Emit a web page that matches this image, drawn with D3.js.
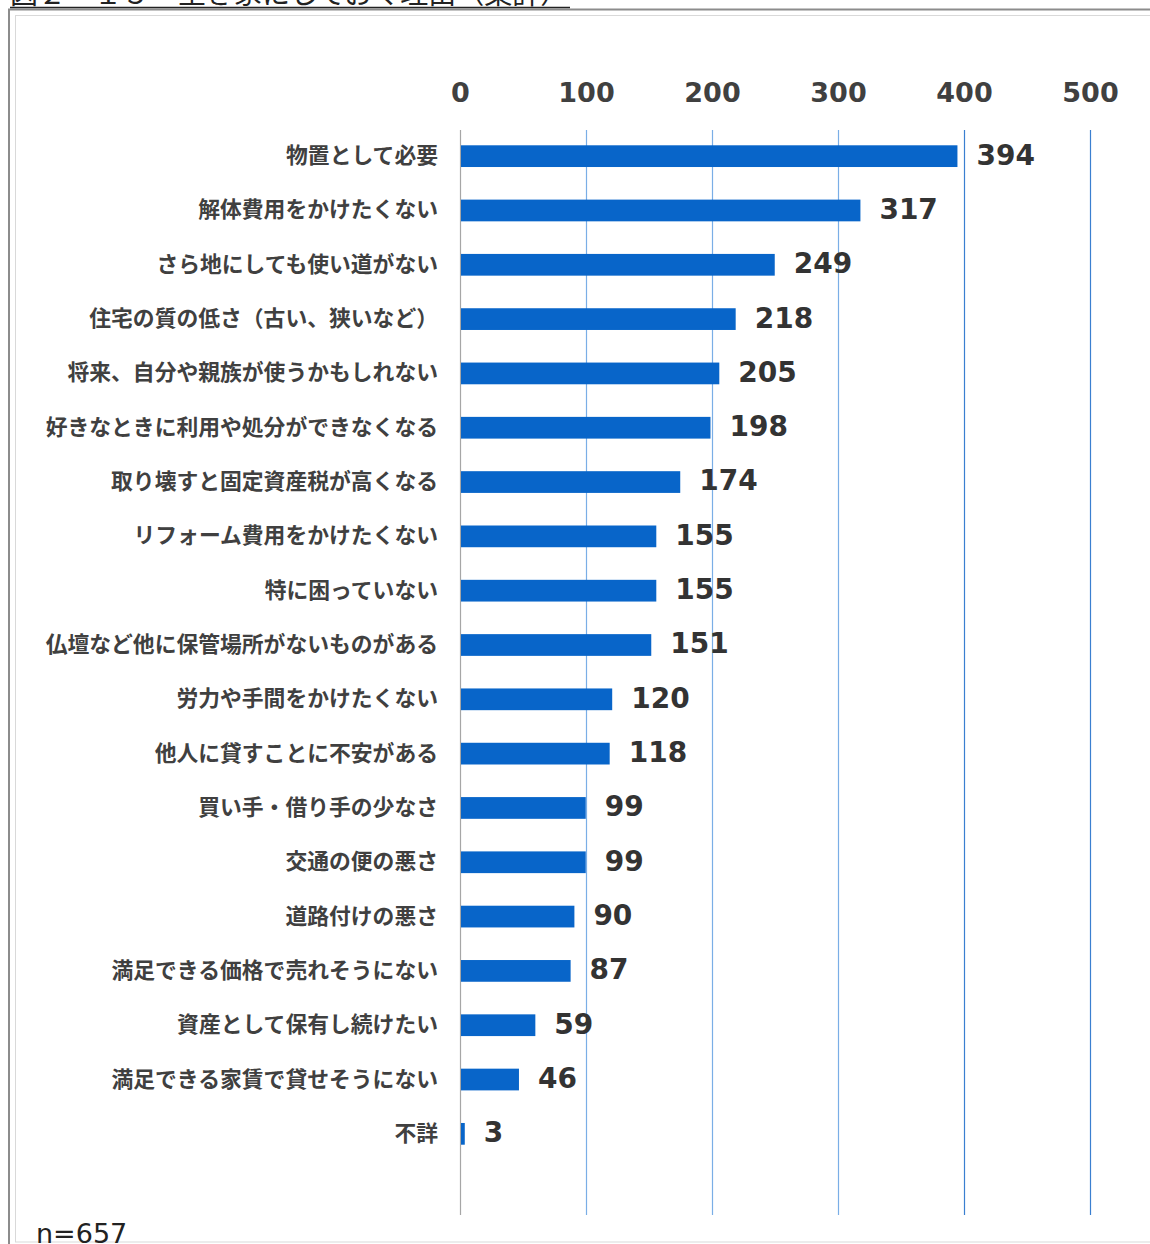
<!DOCTYPE html>
<html>
<head>
<meta charset="utf-8">
<script src="https://cdn.jsdelivr.net/npm/d3@7"></script>
<style>
  body { margin: 0; background: #fff; }
  svg { display: block; }
</style>
</head>
<body>
<div id="chart"></div>
<script>
var reasons = [
  "物置として必要",
  "解体費用をかけたくない",
  "さら地にしても使い道がない",
  "住宅の質の低さ（古い、狭いなど）",
  "将来、自分や親族が使うかもしれない",
  "好きなときに利用や処分ができなくなる",
  "取り壊すと固定資産税が高くなる",
  "リフォーム費用をかけたくない",
  "特に困っていない",
  "仏壇など他に保管場所がないものがある",
  "労力や手間をかけたくない",
  "他人に貸すことに不安がある",
  "買い手・借り手の少なさ",
  "交通の便の悪さ",
  "道路付けの悪さ",
  "満足できる価格で売れそうにない",
  "資産として保有し続けたい",
  "満足できる家賃で貸せそうにない",
  "不詳"
];
var counts = [394, 317, 249, 218, 205, 198, 174, 155, 155, 151, 120, 118, 99, 99, 90, 87, 59, 46, 3];
var ticks = [0, 100, 200, 300, 400, 500];
var title = "図２－１５　空き家にしておく理由（集計）";
var note = "n=657";

var W = 1150, H = 1244;
var svg = d3.select("#chart").append("svg")
    .attr("width", W)
    .attr("height", H);

// frame
svg.append("rect")
    .attr("x", 9).attr("y", 9.5)
    .attr("width", W + 20).attr("height", H + 20)
    .attr("fill", "none").attr("stroke", "#8c8c8c").attr("stroke-width", 2);
svg.append("rect")
    .attr("x", 15.5).attr("y", 15.5)
    .attr("width", W + 20).attr("height", 1242 - 15.5)
    .attr("fill", "none").attr("stroke", "#d9d9d9").attr("stroke-width", 1);

// title (cut off at the top)
svg.append("text")
    .attr("x", 10).attr("y", 4)
    .attr("font-family", "'Noto Sans CJK JP', sans-serif")
    .attr("font-size", 28)
    .attr("fill", "#222")
    .text(title);
svg.append("line")
    .attr("x1", 10).attr("x2", 570)
    .attr("y1", 7.5).attr("y2", 7.5)
    .attr("stroke", "#222").attr("stroke-width", 1.5);

var x = d3.scaleLinear().domain([0, 500]).range([460, 1090]);
var y = d3.scaleBand()
    .domain(reasons)
    .range([129, 1161])
    .paddingInner(0.6)
    .paddingOuter(0.3);

// gridlines
svg.append("g")
  .selectAll("line")
  .data(ticks)
  .enter().append("line")
    .attr("x1", function(d) { return Math.round(x(d)) + 0.5; })
    .attr("x2", function(d) { return Math.round(x(d)) + 0.5; })
    .attr("y1", 130)
    .attr("y2", 1215)
    .attr("stroke", function(d) { return d == 0 ? "#a6a6a6" : (d >= 400 ? "#3a7fd0" : "#7aaee6"); })
    .attr("stroke-width", 1.2);

// top axis labels
var xAxis = d3.axisTop(x)
    .tickValues(ticks)
    .tickSize(0)
    .tickPadding(0);

svg.append("g")
    .attr("class", "x axis")
    .attr("transform", "translate(0,102)")
    .call(xAxis)
    .call(function(g) { g.select(".domain").remove(); })
    .selectAll("text")
      .attr("font-family", "'DejaVu Sans', Verdana, sans-serif")
      .attr("font-weight", "bold")
      .attr("font-size", 27)
      .attr("fill", "#404040");

// bars
svg.append("g")
  .selectAll("rect")
  .data(counts)
  .enter().append("rect")
    .attr("x", x(0) + 1)
    .attr("y", function(d, i) { return y(reasons[i]); })
    .attr("width", function(d) { return x(d) - x(0); })
    .attr("height", y.bandwidth())
    .attr("fill", "#0865c9");

// value labels
svg.append("g")
  .selectAll("text")
  .data(counts)
  .enter().append("text")
    .attr("x", function(d) { return x(d) + 20; })
    .attr("y", function(d, i) { return y(reasons[i]) + y.bandwidth() / 2; })
    .attr("dy", "0.3em")
    .attr("font-family", "'DejaVu Sans', Verdana, sans-serif")
    .attr("font-weight", "bold")
    .attr("font-size", 28)
    .attr("fill", "#333")
    .text(function(d) { return d; });

// category labels
var yAxis = d3.axisLeft(y)
    .tickSize(0)
    .tickPadding(22);

svg.append("g")
    .attr("class", "y axis")
    .attr("transform", "translate(460,0)")
    .call(yAxis)
    .call(function(g) { g.select(".domain").remove(); })
    .selectAll("text")
      .attr("font-family", "'Noto Sans CJK JP', sans-serif")
      .attr("font-weight", "bold")
      .attr("font-size", 21.8)
      .attr("fill", "#404040");

svg.append("text")
    .attr("x", 36).attr("y", 1243)
    .attr("font-family", "'DejaVu Sans', Verdana, sans-serif")
    .attr("font-size", 27)
    .attr("fill", "#222")
    .text(note);
</script>
</body>
</html>
